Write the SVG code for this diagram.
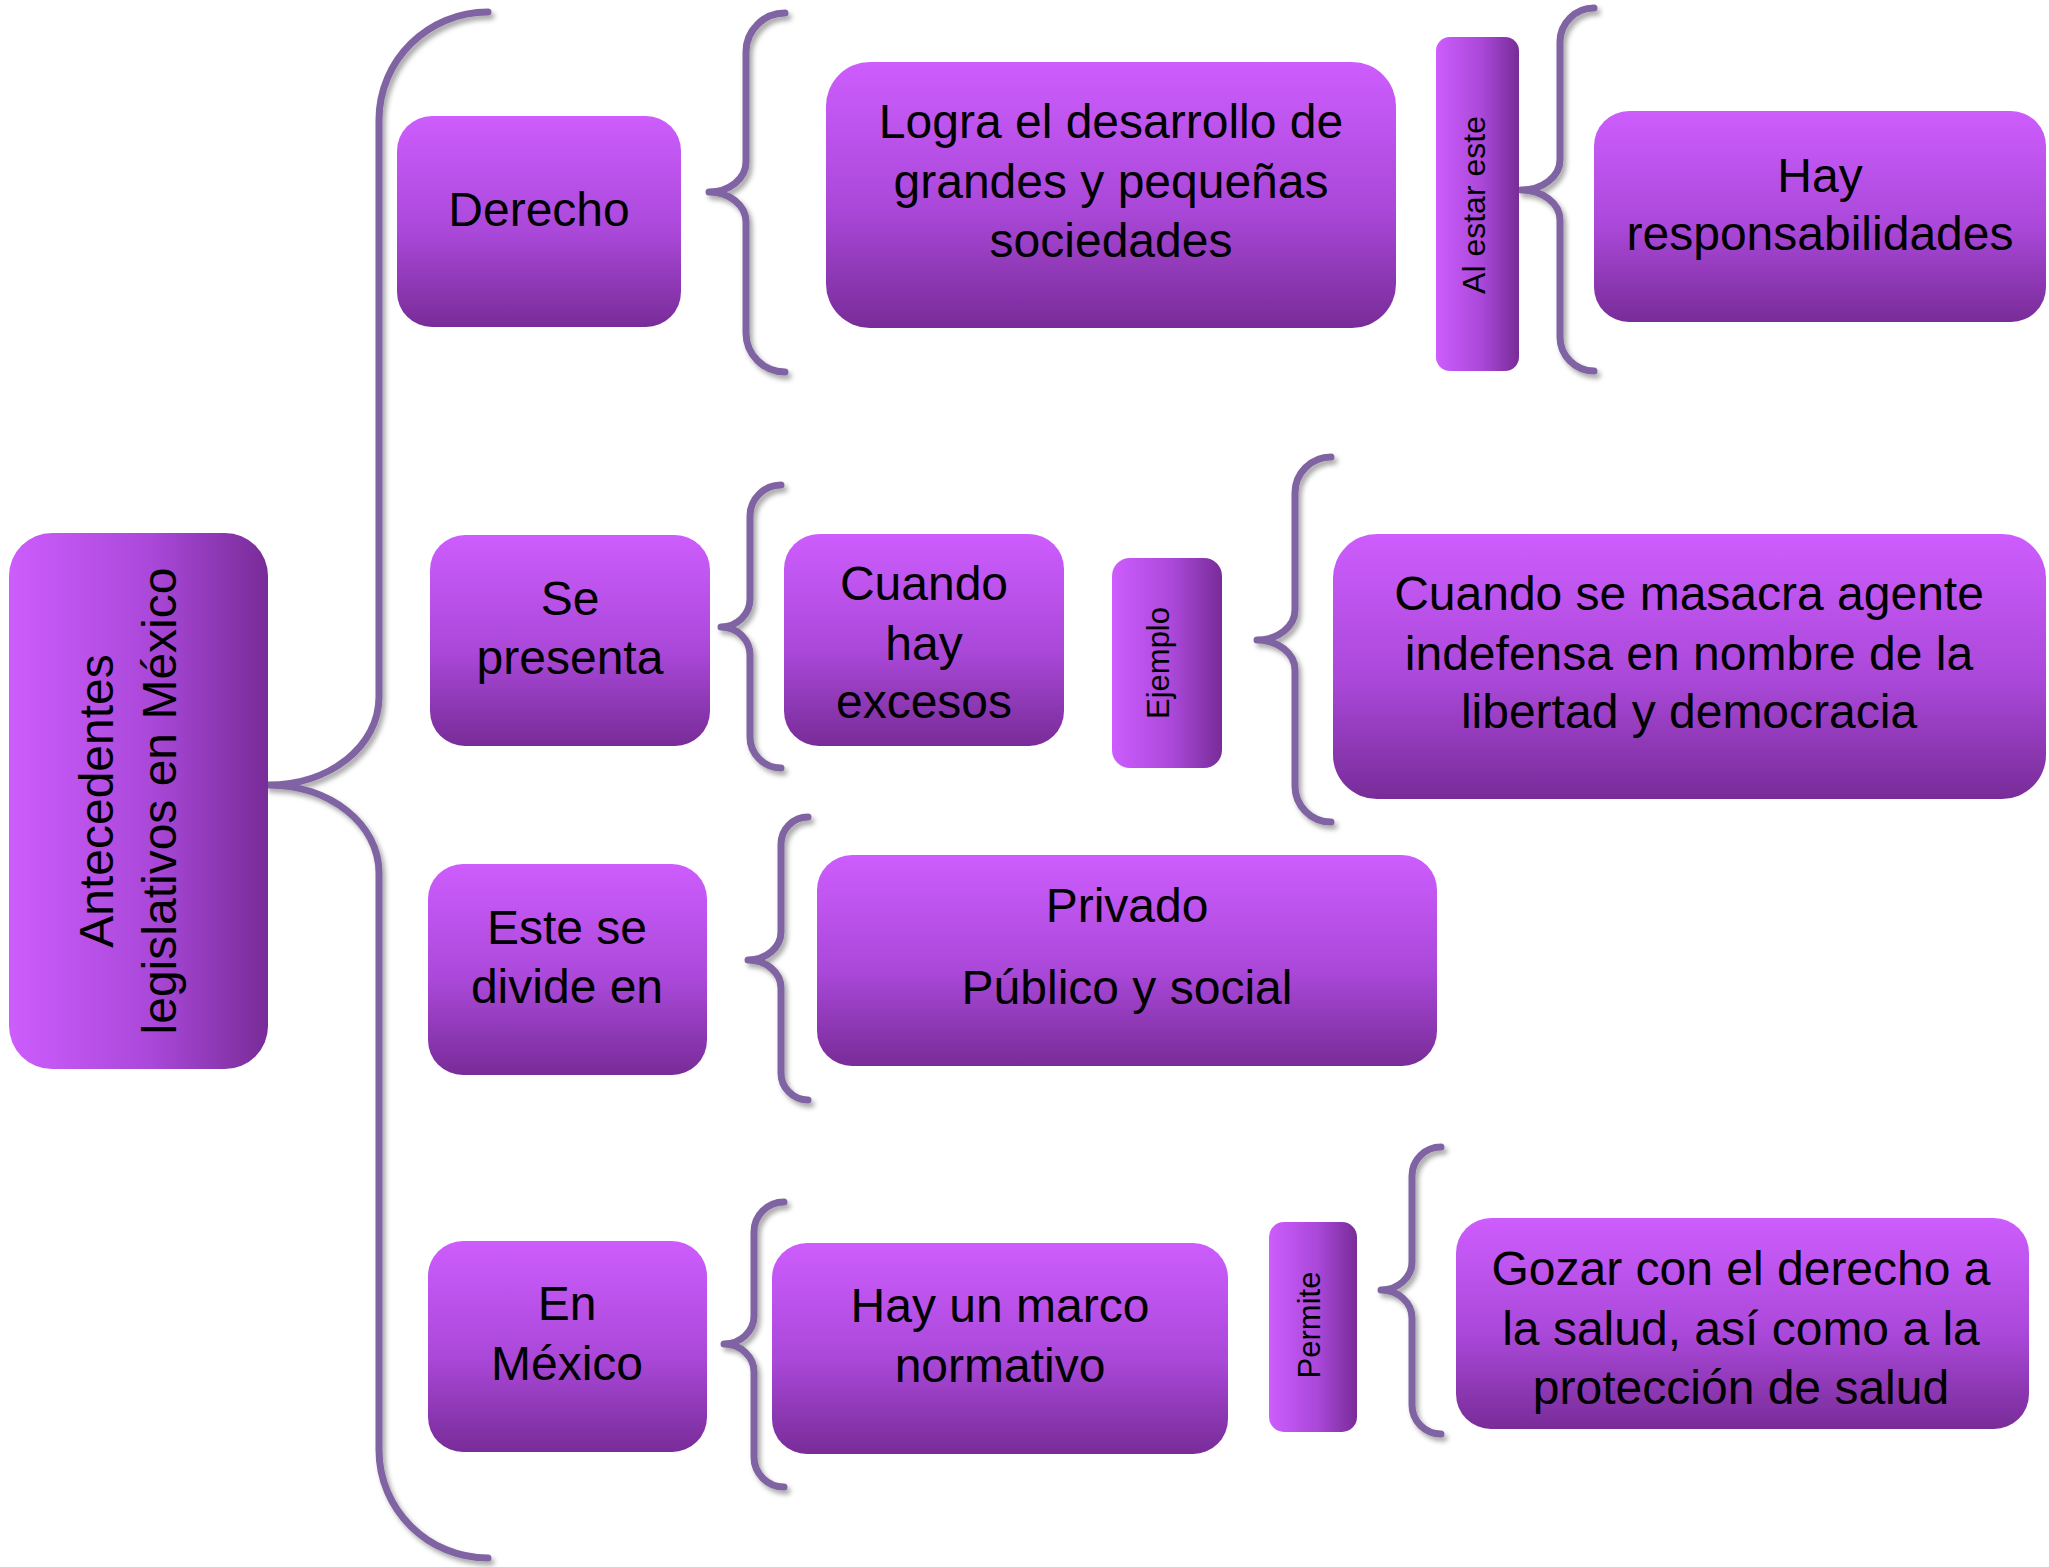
<svg xmlns="http://www.w3.org/2000/svg" width="2049" height="1567" viewBox="0 0 2049 1567">
<defs>
<linearGradient id="gv" x1="0" y1="0" x2="0" y2="1">
<stop offset="0" stop-color="#cd5dfd"/>
<stop offset="0.55" stop-color="#aa48d9"/>
<stop offset="1" stop-color="#782c98"/>
</linearGradient>
<linearGradient id="gh" x1="0" y1="0" x2="1" y2="0">
<stop offset="0" stop-color="#cd5dfd"/>
<stop offset="0.55" stop-color="#aa48d9"/>
<stop offset="1" stop-color="#782c98"/>
</linearGradient>
<filter id="sh" x="-20%" y="-5%" width="140%" height="110%">
<feDropShadow dx="3" dy="4" stdDeviation="2.5" flood-color="#000" flood-opacity="0.35"/>
</filter>
</defs>
<style>
.box{fill:url(#gv);}
.boxh{fill:url(#gh);}
.t{font-family:"Liberation Sans",Arial,sans-serif;font-size:48px;fill:#000;text-anchor:middle;}
.ts{font-family:"Liberation Sans",Arial,sans-serif;font-size:32px;fill:#000;text-anchor:middle;}
.br{fill:none;stroke:#8064a2;stroke-width:7;stroke-linecap:round;stroke-linejoin:round;filter:url(#sh);}
</style>
<rect width="2049" height="1567" fill="#fff"/>
<g id="connectors">
<path class="br" d="M488,12 C428,12 379,60 379,120 L379,697 C379,746 330,785 268,785 C330,785 379,824 379,873 L379,1450 C379,1510 428,1558 488,1558"/>
<path class="br" d="M785,13 C763.5,13 746,30.5 746,52 L746,162 C746,178.5 729.4,192 709,192 C729.4,192 746,205.5 746,222 L746,333 C746,354.5 763.5,372 785,372"/>
<path class="br" d="M1594,8 C1575.3,8 1560,23.3 1560,42 L1560,160 C1560,176.5 1542.5,190 1521,190 C1542.5,190 1560,203.5 1560,220 L1560,337 C1560,355.7 1575.3,371 1594,371"/>
<path class="br" d="M781,485 C764,485 750,499 750,516 L750,599 C750,614.4 737,627 721,627 C737,627 750,639.6 750,655 L750,737 C750,754 764,768 781,768"/>
<path class="br" d="M1331,457 C1311.2,457 1295,473.2 1295,493 L1295,610 C1295,626.5 1277.9,640 1257,640 C1277.9,640 1295,653.5 1295,670 L1295,786 C1295,805.8 1311.2,822 1331,822"/>
<path class="br" d="M808,817 C793.2,817 781,829.2 781,844 L781,932 C781,947.4 766.2,960 748,960 C766.2,960 781,972.6 781,988 L781,1073 C781,1087.8 793.2,1100 808,1100"/>
<path class="br" d="M784,1202 C767.5,1202 754,1215.5 754,1232 L754,1316 C754,1331.4 740.5,1344 724,1344 C740.5,1344 754,1356.6 754,1372 L754,1457 C754,1473.5 767.5,1487 784,1487"/>
<path class="br" d="M1441,1147 C1425,1147 1412,1160 1412,1176 L1412,1262 C1412,1277.4 1398,1290 1381,1290 C1398,1290 1412,1302.6 1412,1318 L1412,1405 C1412,1421 1425,1434 1441,1434"/>
</g>
<g id="n-main">
<rect class="boxh" x="9" y="533" width="259" height="536" rx="43"/>
<text class="t" transform="translate(113,801) rotate(-90)">Antecedentes</text>
<text class="t" transform="translate(176,801) rotate(-90)">legislativos en México</text>
</g>
<g id="n-derecho">
<rect class="box" x="397" y="116" width="284" height="211" rx="35"/>
<text class="t" x="539" y="226">Derecho</text>
</g>
<g id="n-logra">
<rect class="box" x="826" y="62" width="570" height="266" rx="44"/>
<text class="t" x="1111" y="138">Logra el desarrollo de</text>
<text class="t" x="1111" y="198">grandes y pequeñas</text>
<text class="t" x="1111" y="257">sociedades</text>
</g>
<g id="n-alestar">
<rect class="boxh" x="1436" y="37" width="83" height="334" rx="14"/>
<text class="ts" transform="translate(1485,205) rotate(-90)">Al estar este</text>
</g>
<g id="n-hay">
<rect class="box" x="1594" y="111" width="452" height="211" rx="35"/>
<text class="t" x="1820" y="192">Hay</text>
<text class="t" x="1820" y="250">responsabilidades</text>
</g>
<g id="n-sepresenta">
<rect class="box" x="430" y="535" width="280" height="211" rx="35"/>
<text class="t" x="570" y="615">Se</text>
<text class="t" x="570" y="674">presenta</text>
</g>
<g id="n-cuandohay">
<rect class="box" x="784" y="534" width="280" height="212" rx="35"/>
<text class="t" x="924" y="600">Cuando</text>
<text class="t" x="924" y="660">hay</text>
<text class="t" x="924" y="718">excesos</text>
</g>
<g id="n-ejemplo">
<rect class="boxh" x="1112" y="558" width="110" height="210" rx="18"/>
<text class="ts" style="font-size:31px" transform="translate(1169,663) rotate(-90)">Ejemplo</text>
</g>
<g id="n-masacra">
<rect class="box" x="1333" y="534" width="713" height="265" rx="44"/>
<text class="t" x="1689" y="610">Cuando se masacra agente</text>
<text class="t" x="1689" y="670">indefensa en nombre de la</text>
<text class="t" x="1689" y="728">libertad y democracia</text>
</g>
<g id="n-este">
<rect class="box" x="428" y="864" width="279" height="211" rx="35"/>
<text class="t" x="567" y="944">Este se</text>
<text class="t" x="567" y="1003">divide en</text>
</g>
<g id="n-privado">
<rect class="box" x="817" y="855" width="620" height="211" rx="35"/>
<text class="t" x="1127" y="922">Privado</text>
<text class="t" x="1127" y="1004">Público y social</text>
</g>
<g id="n-enmexico">
<rect class="box" x="428" y="1241" width="279" height="211" rx="35"/>
<text class="t" x="567" y="1320">En</text>
<text class="t" x="567" y="1380">México</text>
</g>
<g id="n-marco">
<rect class="box" x="772" y="1243" width="456" height="211" rx="35"/>
<text class="t" x="1000" y="1322">Hay un marco</text>
<text class="t" x="1000" y="1382">normativo</text>
</g>
<g id="n-permite">
<rect class="boxh" x="1269" y="1222" width="88" height="210" rx="15"/>
<text class="ts" style="font-size:31px" transform="translate(1320,1325) rotate(-90)">Permite</text>
</g>
<g id="n-gozar">
<rect class="box" x="1456" y="1218" width="573" height="211" rx="35"/>
<text class="t" x="1741" y="1285">Gozar con el derecho a</text>
<text class="t" x="1741" y="1345">la salud, así como a la</text>
<text class="t" x="1741" y="1404">protección de salud</text>
</g>
</svg>
